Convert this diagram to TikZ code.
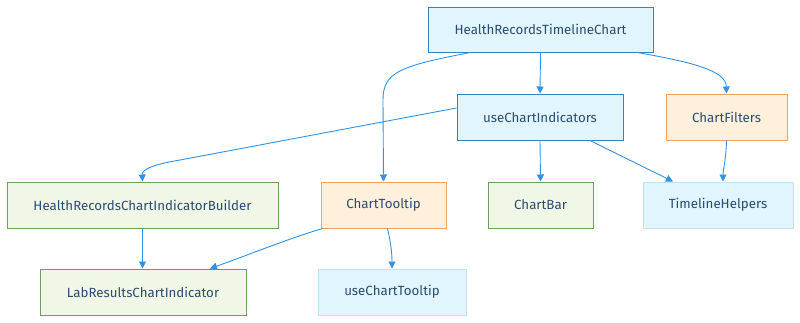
\documentclass[tikz,border=0pt]{standalone}
\usepackage{fontspec}
\setmainfont{Fira Sans}
\usetikzlibrary{arrows.meta}
\definecolor{bfill}{HTML}{E1F5FE}
\definecolor{bdraw}{HTML}{3A7FBF}
\definecolor{blight}{HTML}{BFE3F7}
\definecolor{ofill}{HTML}{FFF0DC}
\definecolor{odraw}{HTML}{F2A35E}
\definecolor{gfill}{HTML}{F1F7E7}
\definecolor{gdraw}{HTML}{6E9E5E}
\definecolor{txt}{HTML}{2B4C6F}
\definecolor{edge}{HTML}{2E93E6}
\tikzset{
  box/.style={rectangle, line width=1pt, inner sep=0pt, text=txt, font=\fontsize{13.3}{15}\selectfont},
  bluebox/.style={box, fill=bfill, draw=bdraw},
  lbluebox/.style={box, fill=bfill, draw=blight},
  orangebox/.style={box, fill=ofill, draw=odraw},
  greenbox/.style={box, fill=gfill, draw=gdraw},
  link/.style={draw=edge, line width=0.9pt, -{Triangle[length=7pt,width=7pt]}},
}
\begin{document}
\begin{tikzpicture}[x=1pt,y=-1pt]
\useasboundingbox (0,0) rectangle (800,322);
\node[bluebox, minimum width=225pt, minimum height=45pt] (hrtc) at (540.5,29.5) {HealthRecordsTimelineChart};
\node[bluebox, minimum width=166pt, minimum height=46pt] (uci) at (540,117) {useChartIndicators};
\node[orangebox, minimum width=121pt, minimum height=46pt] (cf) at (726.5,117) {ChartFilters};
\node[greenbox, minimum width=271pt, minimum height=46pt] (hrcib) at (142.5,205) {HealthRecordsChartIndicatorBuilder};
\node[orangebox, minimum width=125pt, minimum height=46pt] (ct) at (383.5,205) {ChartTooltip};
\node[greenbox, minimum width=105pt, minimum height=46pt] (cb) at (540.5,205) {ChartBar};
\node[lbluebox, minimum width=150pt, minimum height=46pt] (th) at (718,205) {TimelineHelpers};
\node[greenbox, minimum width=206pt, minimum height=46pt] (lrci) at (143,292) {LabResultsChartIndicator};
\node[lbluebox, minimum width=148pt, minimum height=46pt] (uct) at (392,292) {useChartTooltip};

\draw[link] (hrtc.south) -- (uci.north);
\draw[link] ([xshift=-70pt]hrtc.south) .. controls (400,66) and (383,72) .. (383,100) -- (ct.north);
\draw[link] ([xshift=97pt]hrtc.south) .. controls (690,62) and (726,70) .. (cf.north);
\draw[link] ([yshift=9pt]uci.west) -- (180,160) .. controls (150,165) and (142,170) .. (hrcib.north);
\draw[link] (uci.south) -- (cb.north);
\draw[link] ([xshift=50pt]uci.south) -- ([xshift=-45pt]th.north);
\draw[link] (cf.south) .. controls (726,160) and (723,170) .. ([xshift=5pt]th.north);
\draw[link] (hrcib.south) -- ([xshift=-0.5pt]lrci.north);
\draw[link] ([xshift=-61pt]ct.south) .. controls (290,238) and (240,258) .. ([xshift=67pt]lrci.north);
\draw[link] ([xshift=4pt]ct.south) .. controls (390,240) and (392,250) .. (uct.north);
\end{tikzpicture}
\end{document}
